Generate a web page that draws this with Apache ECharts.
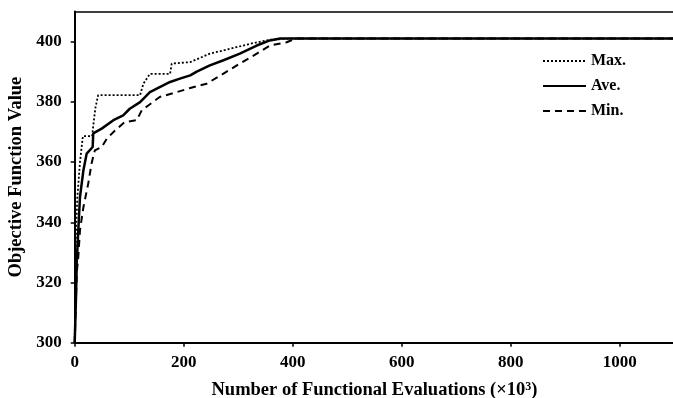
<!DOCTYPE html>
<html>
<head>
<meta charset="utf-8">
<script src="https://cdn.jsdelivr.net/npm/echarts@6/dist/echarts.min.js"></script>
<style>
  html, body { margin: 0; padding: 0; background: #fff; }
  #chart { width: 673px; height: 398px; }
</style>
</head>
<body>
<div id="chart"></div>
<script>
// Function evaluations (x10^3) and objective values for the three runs
const maxEvals = [0, 1, 2.4, 4.8, 9.7, 15, 32, 34, 38, 43, 120, 126, 138, 175, 178, 212, 248, 285, 322, 358, 395, 1100];
const maxValues = [300, 320, 337, 348, 360, 368.6, 368.6, 372, 378, 382.2, 382.2, 386, 389.3, 389.3, 392.7, 393.2, 396, 397.6, 399.3, 400.6, 401, 401];

const aveEvals = [0, 2.4, 3.7, 6.6, 9.7, 16, 22, 33, 34, 36, 49.5, 71, 89, 101, 120, 138, 156, 175, 193, 212, 224, 248, 273, 303, 334, 358, 377, 395, 1100];
const aveValues = [300, 315, 326.4, 337.4, 348.4, 357.3, 362.8, 365, 369.5, 370, 371.1, 373.9, 375.5, 377.7, 379.9, 383.2, 384.9, 386.6, 387.7, 388.8, 390, 392.1, 393.8, 396, 398.7, 400.4, 401, 401, 401];

const minEvals = [0, 3.7, 6.6, 9.7, 16, 25, 31, 37, 49.5, 59, 74, 92, 114, 123, 135, 156, 187, 212, 242, 273, 303, 334, 358, 389, 405, 1100];
const minValues = [300, 323, 328.5, 337.4, 345, 353, 359.6, 363.9, 365, 367.8, 370.5, 373.3, 373.9, 377.2, 378.8, 381.6, 383.2, 384.6, 386, 389.4, 392.7, 396, 398.7, 399.8, 401, 401];

const xTicks = { min: 0, max: 1100, interval: 200 };
const yTicks = { min: 300, max: 410, interval: 20 };

const pairs = (xs, ys) => xs.map((x, i) => [x, ys[i]]);

const font = '"Liberation Serif", "DejaVu Serif", serif';
const chart = echarts.init(document.getElementById('chart'), null, { renderer: 'canvas' });

chart.setOption({
  animation: false,
  backgroundColor: '#fff',
  textStyle: { fontFamily: font, color: '#000' },
  grid: {
    left: 74.7, top: 11.5, width: 599.5, height: 331.2,
    containLabel: false,
    outerBoundsMode: 'none'
  },
  legend: {
    orient: 'vertical',
    left: 542,
    top: 53,
    padding: 0,
    itemWidth: 43,
    itemHeight: 16,
    itemGap: 9,
    itemStyle: { opacity: 0 },
    textStyle: { fontFamily: font, fontWeight: 'bold', fontSize: 16, color: '#000' },
    data: ['Max.', 'Ave.', 'Min.']
  },
  xAxis: [{
    type: 'value',
    min: xTicks.min,
    max: xTicks.max,
    interval: xTicks.interval,
    name: '{a|Number of Functional Evaluations (\u00d710}{s|3}{a|)}',
    nameLocation: 'middle',
    nameGap: 38,
    nameTextStyle: {
      rich: {
        a: { fontFamily: font, fontWeight: 'bold', fontSize: 18.5, color: '#000', verticalAlign: 'bottom' },
        s: { fontFamily: font, fontWeight: 'bold', fontSize: 12, color: '#000', verticalAlign: 'top' }
      }
    },
    axisLine: { show: true, onZero: false, lineStyle: { color: '#000', width: 2 } },
    axisTick: { show: true, length: 4, lineStyle: { color: '#000', width: 1.5 } },
    axisLabel: {
      showMaxLabel: false,
      margin: 11,
      formatter: (v) => String(v),
      fontFamily: font, fontWeight: 'bold', fontSize: 17, color: '#000'
    },
    splitLine: { show: false }
  }, {
    type: 'value',
    position: 'top',
    min: xTicks.min,
    max: xTicks.max,
    axisLine: { show: true, onZero: false, lineStyle: { color: '#000', width: 1.5 } },
    axisTick: { show: false },
    axisLabel: { show: false },
    splitLine: { show: false }
  }],
  yAxis: {
    type: 'value',
    min: yTicks.min,
    max: yTicks.max,
    interval: yTicks.interval,
    name: 'Objective Function Value',
    nameLocation: 'middle',
    nameRotate: 90,
    nameGap: 44,
    nameTextStyle: { fontFamily: font, fontWeight: 'bold', fontSize: 18.5, color: '#000' },
    axisLine: { show: true, onZero: false, lineStyle: { color: '#000', width: 2 } },
    axisTick: { show: true, length: 4, lineStyle: { color: '#000', width: 1.5 } },
    axisLabel: {
      showMaxLabel: false,
      margin: 13,
      formatter: (v) => String(v),
      fontFamily: font, fontWeight: 'bold', fontSize: 17, color: '#000'
    },
    splitLine: { show: false }
  },
  series: [{
    name: 'Max.',
    type: 'line',
    showSymbol: false,
    symbol: 'none',
    data: pairs(maxEvals, maxValues),
    lineStyle: { color: '#000', width: 1.8, type: [2, 2] },
    itemStyle: { color: '#000' }
  }, {
    name: 'Ave.',
    type: 'line',
    showSymbol: false,
    symbol: 'none',
    data: pairs(aveEvals, aveValues),
    lineStyle: { color: '#000', width: 2.5, type: 'solid' },
    itemStyle: { color: '#000' }
  }, {
    name: 'Min.',
    type: 'line',
    showSymbol: false,
    symbol: 'none',
    data: pairs(minEvals, minValues),
    lineStyle: { color: '#000', width: 2, type: [7, 5] },
    itemStyle: { color: '#000' }
  }]
});
</script>
</body>
</html>
